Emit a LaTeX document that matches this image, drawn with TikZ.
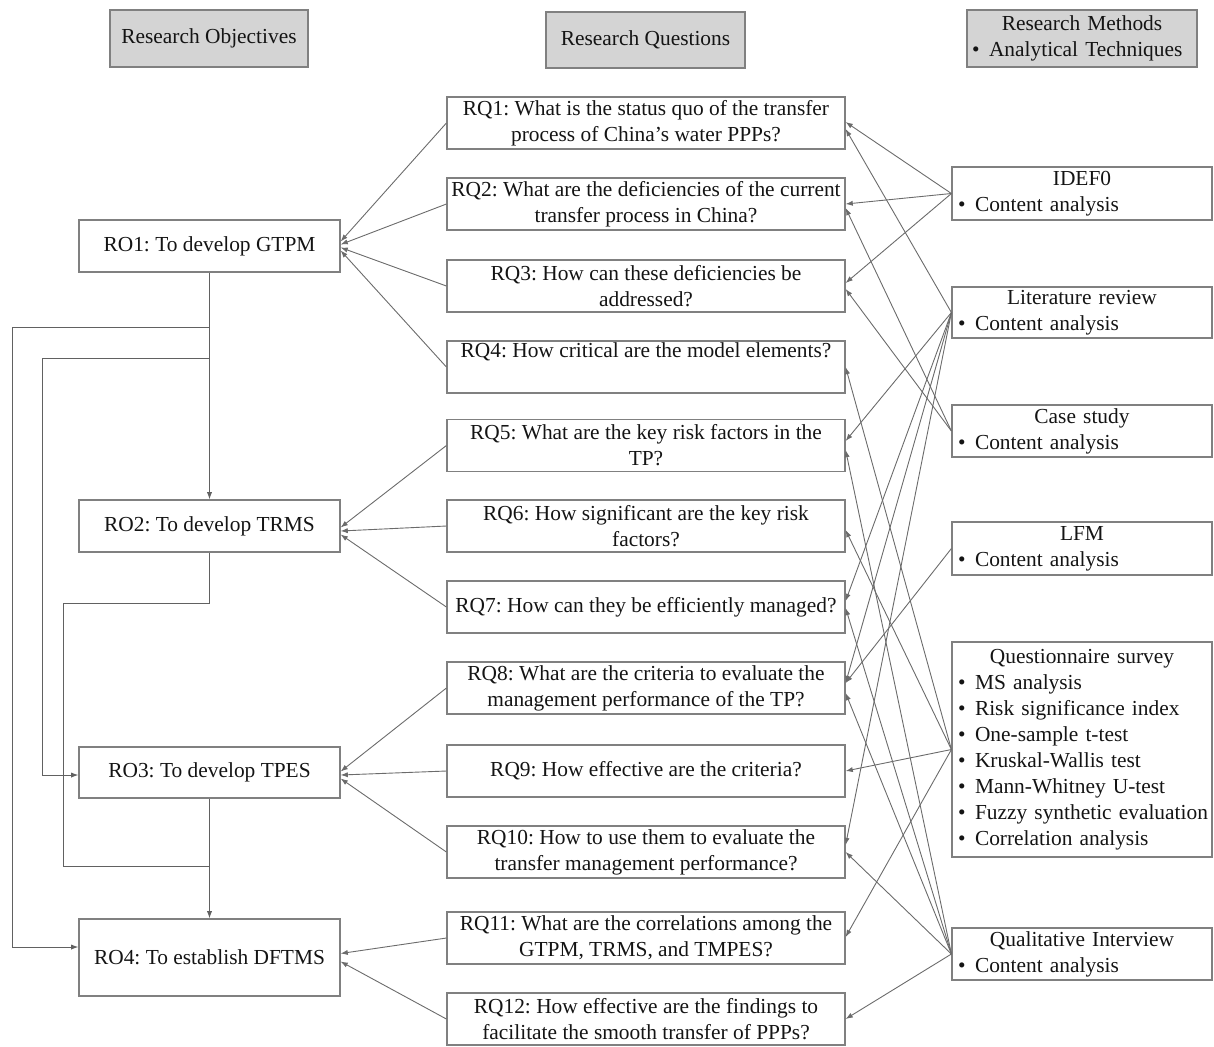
\documentclass[tikz,border=0pt]{standalone}
\usepackage{fontspec}
\setmainfont{Liberation Serif}
\usetikzlibrary{arrows.meta,calc}
\newcommand{\bul}{\makebox[8.5pt][l]{•}}
\newcommand{\itm}[1]{\bul\mbox{#1}}

\begin{document}
\frenchspacing
\begin{tikzpicture}[x=0.5pt,y=-0.5pt,
  every node/.style={font=\fontsize{10.7pt}{13pt}\selectfont, text=black!92},
  box/.style={draw=black!50, line width=0.6pt, inner sep=0pt, align=center},
  head/.style={box, fill=black!17},
  obj/.style={box, minimum width=130.5pt},
  que/.style={box, minimum width=199pt, minimum height=26pt},
  meth/.style={box, minimum width=130pt, text width=124pt, align=left},
  tip/.style={-{Latex[length=3.6pt,width=2.6pt]}},
  link/.style={draw=black!58, line width=0.45pt, tip},
  flow/.style={draw=black!62, line width=0.5pt},
]
\useasboundingbox (0,0) rectangle (1214,1046);

% column headings
\node[head, minimum width=99pt, minimum height=28.5pt] (hRO) at (209,38.5) {Research Objectives};
\node[head, minimum width=99.5pt, minimum height=28pt] (hRQ) at (645.5,40) {Research Questions};
\node[head, minimum width=115pt, minimum height=28.5pt, text width=110pt, align=left] (hRM) at (1082,38.5)
  {{\centering Research Methods\par}\itm{Analytical Techniques}};

% research objectives
\node[obj, minimum height=26pt]   (RO1) at (209.5,246)   {RO1: To develop GTPM};
\node[obj, minimum height=26pt]   (RO2) at (209.5,526)   {RO2: To develop TRMS};
\node[obj, minimum height=25.5pt] (RO3) at (209.5,772.5) {RO3: To develop TPES};
\node[obj, minimum height=38.5pt] (RO4) at (209.5,957.5) {RO4: To establish DFTMS};

% research questions
\node[que] (RQ1)  at (646,123)   {RQ1: What is the status quo of the transfer\\process of China’s water PPPs?};
\node[que] (RQ2)  at (646,204)   {RQ2: What are the deficiencies of the current\\transfer process in China?};
\node[que] (RQ3)  at (646,286)   {RQ3: How can these deficiencies be\\addressed?};
\node[que] (RQ4)  at (646,367)   {RQ4: How critical are the model elements?\\\strut};
\node[que] (RQ5)  at (646,445.5) {RQ5: What are the key risk factors in the\\TP?};
\node[que] (RQ6)  at (646,526)   {RQ6: How significant are the key risk\\factors?};
\node[que] (RQ7)  at (646,607)   {RQ7: How can they be efficiently managed?};
\node[que] (RQ8)  at (646,688)   {RQ8: What are the criteria to evaluate the\\management performance of the TP?};
\node[que] (RQ9)  at (646,771)   {RQ9: How effective are the criteria?};
\node[que] (RQ10) at (646,852)   {RQ10: How to use them to evaluate the\\transfer management performance?};
\node[que] (RQ11) at (646,938)   {RQ11: What are the correlations among the\\GTPM, TRMS, and TMPES?};
\node[que] (RQ12) at (646,1019)  {RQ12: How effective are the findings to\\facilitate the smooth transfer of PPPs?};

% research methods and analytical techniques
\node[meth, minimum height=26.5pt] (mIDEF) at (1082,193.5)
  {{\centering IDEF0\par}\itm{Content analysis}};
\node[meth, minimum height=25.5pt] (mLit) at (1082,312.5)
  {{\centering Literature review\par}\itm{Content analysis}};
\node[meth, minimum height=26pt] (mCase) at (1082,431)
  {{\centering Case study\par}\itm{Content analysis}};
\node[meth, minimum height=26.5pt] (mLFM) at (1082,548.5)
  {{\centering LFM\par}\itm{Content analysis}};
\node[meth, minimum height=107.5pt] (mQS) at (1082,749.5)
  {{\centering Questionnaire survey\par}\itm{MS analysis}\par\itm{Risk significance index}\par
   \itm{One-sample t-test}\par\itm{Kruskal-Wallis test}\par\itm{Mann-Whitney U-test}\par
   \itm{Fuzzy synthetic evaluation}\par\itm{Correlation analysis}};
\node[meth, minimum height=26pt] (mQI) at (1082,954)
  {{\centering Qualitative Interview\par}\itm{Content analysis}};

% questions feeding each objective
\foreach \q/\o/\d in {RQ1/RO1/-4.5, RQ2/RO1/-1.5, RQ3/RO1/1.5, RQ4/RO1/4.5,
                      RQ5/RO2/1.5, RQ6/RO2/5, RQ7/RO2/8.5,
                      RQ8/RO3/-1, RQ9/RO3/2.5, RQ10/RO3/6,
                      RQ11/RO4/-4, RQ12/RO4/4}
  \draw[link] (\q.west) -- ($(\o.east)+(0,\d)$);

% methods answering each question
\foreach \m/\q/\d in {mIDEF/RQ1/-1, mIDEF/RQ2/0, mIDEF/RQ3/-3,
                      mLit/RQ1/6, mLit/RQ5/-4.5, mLit/RQ7/-6, mLit/RQ8/-5, mLit/RQ10/-7,
                      mCase/RQ2/4, mCase/RQ3/3,
                      mLFM/RQ8/-5,
                      mQS/RQ4/0, mQS/RQ6/4, mQS/RQ9/0, mQS/RQ11/-1,
                      mQI/RQ5/4.5, mQI/RQ7/1, mQI/RQ8/5, mQI/RQ10/0, mQI/RQ12/0}
  \draw[link] (\m.west) -- ($(\q.east)+(0,\d)$);

% sequence of objectives
\coordinate (a1) at ($(RO1.south)+(0,55)$);
\coordinate (a2) at ($(RO1.south)+(0,86)$);
\coordinate (a3) at ($(RO3.south)+(0,68)$);
\draw[flow, tip] (RO1.south) -- (RO2.north);
\draw[flow, tip] (a1) -- ++(-197.5,0) |- ($(RO4.west)+(0,-10.5)$);
\draw[flow, tip] (a2) -- ++(-167.5,0) |- ($(RO3.west)+(0,2.5)$);
\draw[flow] (RO2.south) -- ++(0,51) -- ++(-146.5,0) |- (a3);
\draw[flow, tip] (RO3.south) -- (RO4.north);
\end{tikzpicture}
\end{document}
